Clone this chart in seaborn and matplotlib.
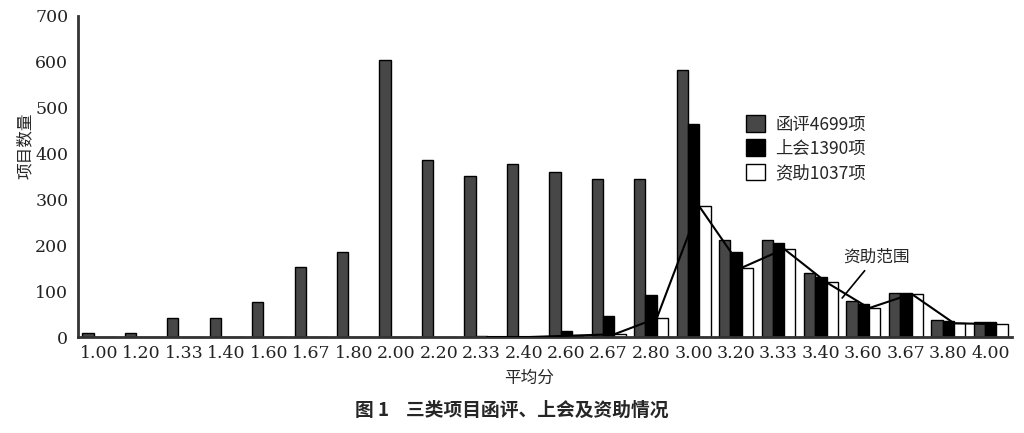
import pandas as pd
import matplotlib
matplotlib.use("Agg")
import matplotlib.pyplot as plt
import seaborn as sns
from matplotlib.ticker import FixedLocator

# 平均分 categories
scores = ["1.00", "1.20", "1.33", "1.40", "1.60", "1.67", "1.80", "2.00",
          "2.20", "2.33", "2.40", "2.60", "2.67", "2.80", "3.00", "3.20",
          "3.33", "3.40", "3.60", "3.67", "3.80", "4.00"]

hanping = [8, 8, 42, 42, 77, 152, 185, 605, 386, 351, 377, 360, 344, 344,
           582, 211, 211, 139, 78, 97, 36, 32]
shanghui = [0, 0, 0, 0, 0, 0, 0, 0, 0, 2, 1, 12, 46, 92,
            464, 185, 206, 131, 73, 97, 35, 32]
zizhu = [0, 0, 0, 0, 0, 0, 0, 0, 0, 0, 0, 3, 6, 41,
         285, 151, 192, 119, 63, 94, 30, 28]

series_names = ["函评4699项", "上会1390项", "资助1037项"]
line_start = "2.33"   # 资助范围 line begins here

rows = []
for name, vals in zip(series_names, [hanping, shanghui, zizhu]):
    for s, v in zip(scores, vals):
        rows.append({"score": s, "count": v, "type": name})
df = pd.DataFrame(rows)

sns.set_style("white")
plt.rcParams["font.family"] = ["DejaVu Serif", "Noto Sans CJK SC"]
cjk = ["Noto Sans CJK SC", "DejaVu Sans"]

fig = plt.figure(figsize=(10.24, 4.33), dpi=100)
ax = fig.add_axes([78 / 1024, 1 - 337 / 433, 934 / 1024, 321 / 433])

palette = {series_names[0]: "#474747", series_names[1]: "black", series_names[2]: "white"}
sns.barplot(data=df, x="score", y="count", hue="type", order=scores,
            hue_order=series_names, palette=palette, edgecolor="black",
            linewidth=1.0, width=0.8, saturation=1, ax=ax)

# line along the top-left corners of the 资助 bars
black_bars = ax.containers[1].patches
i0 = scores.index(line_start)
lx = [b.get_x() + b.get_width() for b in black_bars][i0:]
ly = zizhu[i0:]
ax.plot(lx, ly, color="black", lw=1.5, zorder=5)

ax.annotate("资助范围", xy=(17.5, 85), xytext=(18.3, 175),
            ha="center", va="center", fontsize=12, family=cjk,
            arrowprops=dict(arrowstyle="-", color="black", lw=1.2,
                            shrinkA=2, shrinkB=0))

ax.set_xlim(-0.5, len(scores) - 0.5)
ax.set_ylim(0, 700)
ax.set_yticks(range(0, 701, 100))
ax.tick_params(axis="y", direction="out", length=4, width=1.5,
               labelsize=12.5, colors="#222222", pad=3)
ax.tick_params(axis="x", which="major", length=0, labelsize=12.5, pad=6,
               colors="#222222")
ax.xaxis.set_minor_locator(FixedLocator([i + 0.5 for i in range(len(scores))]))
ax.tick_params(axis="x", which="minor", direction="in", length=4, width=1.5,
               color="#333333")

for side in ["top", "right"]:
    ax.spines[side].set_visible(False)
for side in ["left", "bottom"]:
    ax.spines[side].set_linewidth(2)
    ax.spines[side].set_color("#333333")

ax.set_xlabel("")
ax.set_ylabel("项目数量", family=cjk, fontsize=12)
ax.yaxis.set_label_coords(-0.047, 0.595)

leg = ax.legend(loc="upper left", bbox_to_anchor=(0.698, 0.74), frameon=False,
                handlelength=1.1, handleheight=1.1, handletextpad=0.6,
                labelspacing=0.35, prop={"family": cjk, "size": 12.5})

fig.text(529 / 1024, 1 - 378 / 433, "平均分", ha="center", va="center",
         family=cjk, fontsize=12)
fig.text(512 / 1024, 1 - 410 / 433, "图 1    三类项目函评、上会及资助情况",
         ha="center", va="center", family=cjk, fontsize=13.5, fontweight="bold")

fig.savefig("out.png", dpi=100)
